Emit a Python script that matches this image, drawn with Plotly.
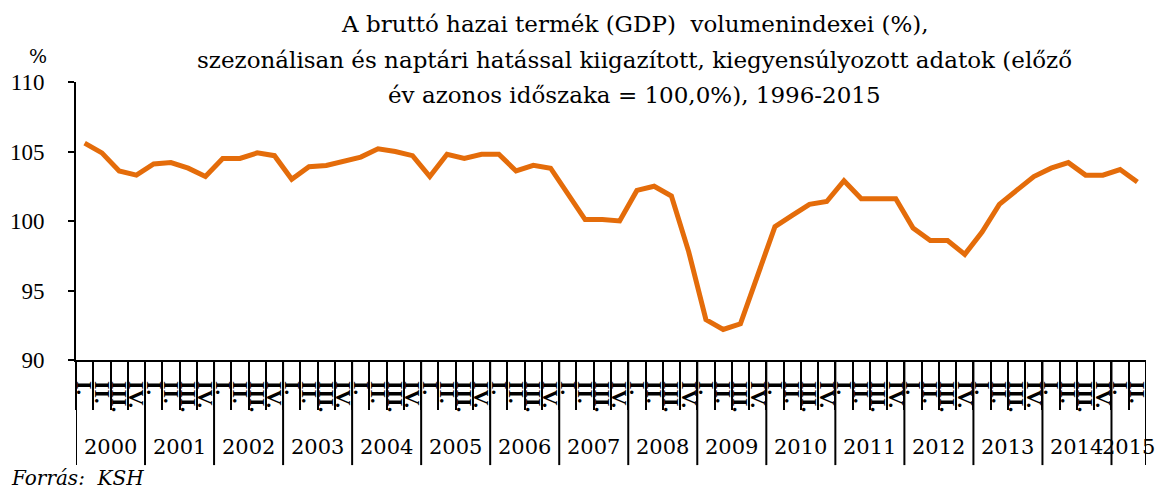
import numpy as np
import plotly.graph_objects as go

# GDP volume index, seasonally and calendar adjusted, quarterly 2000 Q1 - 2015 Q2
years = [2000, 2001, 2002, 2003, 2004, 2005, 2006, 2007,
         2008, 2009, 2010, 2011, 2012, 2013, 2014, 2015]
quarter_names = ["I.", "II.", "III.", "IV."]
quarters_per_year = [4] * 15 + [2]
gdp_index = [105.6, 104.9, 103.6, 103.3, 104.1, 104.2, 103.8, 103.2,
             104.5, 104.5, 104.9, 104.7, 103.0, 103.9, 104.0, 104.3,
             104.6, 105.2, 105.0, 104.7, 103.2, 104.8, 104.5, 104.8,
             104.8, 103.6, 104.0, 103.8, 102.0, 100.1, 100.1, 100.0,
             102.2, 102.5, 101.8, 97.8, 92.9, 92.2, 92.6, 96.0,
             99.6, 100.4, 101.2, 101.4, 102.9, 101.6, 101.6, 101.6,
             99.5, 98.6, 98.6, 97.6, 99.2, 101.2, 102.2, 103.2,
             103.8, 104.2, 103.3, 103.3, 103.7, 102.8]
title_lines = [
    "A bruttó hazai termék (GDP)  volumenindexei (%),",
    "szezonálisan és naptári hatással kiigazított, kiegyensúlyozott adatok (előző",
    "év azonos időszaka = 100,0%), 1996-2015",
]

SERIF = "'DejaVu Serif', serif"
NARROW_SERIF = "'Liberation Serif', serif"
ORANGE = "#E46C0A"

idx = np.arange(len(gdp_index))
q_labels = [quarter_names[q] for n in quarters_per_year for q in range(n)]
year_start = np.cumsum([0] + quarters_per_year[:-1])

fig = go.Figure()
fig.add_trace(go.Scatter(x=idx, y=gdp_index, mode="lines",
                         line=dict(color=ORANGE, width=5),
                         showlegend=False, hoverinfo="x+y"))
# keeps the quarter-label axis alive
fig.add_trace(go.Scatter(x=[None], y=[None], xaxis="x2", showlegend=False))

shapes = []
for s in list(year_start) + [len(gdp_index)]:
    shapes.append(dict(type="line", xref="x", yref="paper",
                       x0=s - 0.5, x1=s - 0.5, y0=0, y1=-0.378,
                       line=dict(color="black", width=2)))

annotations = []
for y, s, n in zip(years, year_start, quarters_per_year):
    annotations.append(dict(text=str(y), x=s + (n - 1) / 2, y=-0.313,
                            xref="x", yref="paper", showarrow=False,
                            yanchor="middle",
                            font=dict(family=SERIF, size=21, color="black")))
for t, yy in zip(title_lines, [1.2086, 1.079, 0.953]):
    annotations.append(dict(text=t, x=0.5224, y=yy, xref="paper", yref="paper",
                            showarrow=False, yanchor="middle",
                            font=dict(family=SERIF, size=23, color="black")))
annotations.append(dict(text="%", x=-0.046, y=1.095, xref="paper", yref="paper",
                        showarrow=False, yanchor="middle",
                        font=dict(family=SERIF, size=19, color="black")))
annotations.append(dict(text="<i>Forrás:  KSH</i>", x=-0.063, y=-0.426,
                        xref="paper", yref="paper", showarrow=False,
                        xanchor="left", yanchor="middle",
                        font=dict(family=SERIF, size=20, color="black")))

# the page body adds an 8px offset, so the figure is 8px smaller
fig.update_layout(
    width=1155, height=484,
    margin=dict(l=68, r=17, t=74, b=132),
    plot_bgcolor="white", paper_bgcolor="white",
    xaxis=dict(range=[-0.5, len(gdp_index) - 0.5], automargin=False,
               tickvals=idx - 0.5, ticks="outside", ticklen=48, tickwidth=2,
               tickcolor="black", showticklabels=False,
               showline=True, linecolor="black", linewidth=2,
               showgrid=False, zeroline=False),
    xaxis2=dict(overlaying="x", matches="x", anchor="y", side="bottom",
                automargin=False,
                tickvals=idx, ticktext=q_labels, tickangle=90, ticks="",
                showline=False, showgrid=False, zeroline=False,
                ticklabelstandoff=20,
                tickfont=dict(family=NARROW_SERIF, size=22, color="black",
                              weight="bold")),
    yaxis=dict(range=[90, 110], dtick=5, ticks="outside", ticklen=6,
               automargin=False,
               tickwidth=2, tickcolor="black", showline=True,
               linecolor="black", linewidth=2, showgrid=False, zeroline=False,
               ticklabelstandoff=19,
               tickfont=dict(family=NARROW_SERIF, size=23, color="black")),
    shapes=shapes,
    annotations=annotations,
)

fig.write_html("out.html")
